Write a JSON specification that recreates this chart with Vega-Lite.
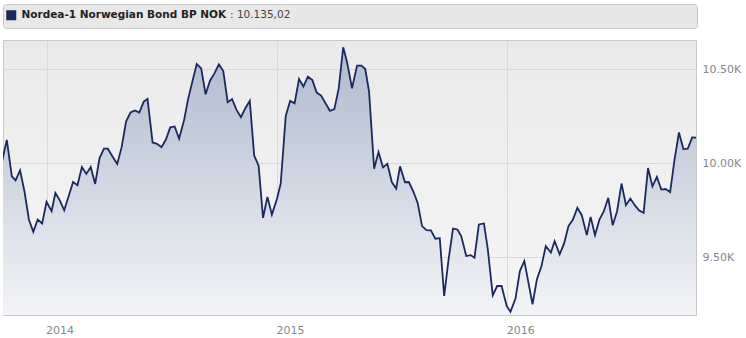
{
  "$schema": "https://vega.github.io/schema/vega-lite/v6.json",
  "padding": {"left": 2, "top": 3, "right": 0, "bottom": 0},
  "background": "white",
  "config": {"font": "DejaVu Sans", "view": {"stroke": null}},
  "spacing": 10,
  "vconcat": [
    {
      "width": 694,
      "height": 24,
      "view": {"fill": "#e8e8e8", "stroke": "#c6c6c6", "cornerRadius": 3},
      "data": {"values": [{"series": "Nordea-1 Norwegian Bond BP NOK"}]},
      "mark": {"type": "square", "opacity": 0},
      "encoding": {
        "color": {
          "field": "series",
          "type": "nominal",
          "scale": {"range": ["#1b2a5e"]},
          "legend": {
            "orient": "none",
            "legendX": 3,
            "legendY": 6,
            "padding": 0,
            "title": ": 10.135,02",
            "titleOrient": "right",
            "titleFontWeight": "normal",
            "titleFontSize": 10.5,
            "titleColor": "#444444",
            "titlePadding": 4,
            "titleLimit": 300,
            "symbolType": "square",
            "symbolSize": 100,
            "symbolStrokeWidth": 0,
            "symbolOpacity": 1,
            "symbolFillColor": "#1b2a5e",
            "labelFontWeight": "bold",
            "labelFontSize": 10.5,
            "labelColor": "#222222",
            "labelOffset": 5,
            "labelLimit": 400
          }
        }
      }
    },
    {
      "width": 693,
      "height": 275,
      "view": {
        "stroke": "#c8c8c8",
        "fill": {
          "gradient": "linear",
          "x1": 0, "y1": 0, "x2": 0, "y2": 1,
          "stops": [
            {"offset": 0, "color": "#eaeaea"},
            {"offset": 1, "color": "#f6f6f6"}
          ]
        }
      },
      "data": {
        "values": [
          {"date": "2013-10-22", "value": 10001},
          {"date": "2013-10-30", "value": 10124},
          {"date": "2013-11-07", "value": 9930},
          {"date": "2013-11-13", "value": 9909},
          {"date": "2013-11-20", "value": 9962},
          {"date": "2013-11-27", "value": 9851},
          {"date": "2013-12-04", "value": 9701},
          {"date": "2013-12-11", "value": 9636},
          {"date": "2013-12-18", "value": 9701},
          {"date": "2013-12-25", "value": 9680},
          {"date": "2014-01-01", "value": 9795},
          {"date": "2014-01-09", "value": 9745},
          {"date": "2014-01-15", "value": 9842},
          {"date": "2014-01-22", "value": 9803},
          {"date": "2014-01-29", "value": 9750},
          {"date": "2014-02-05", "value": 9824},
          {"date": "2014-02-12", "value": 9900},
          {"date": "2014-02-19", "value": 9883},
          {"date": "2014-02-26", "value": 9980},
          {"date": "2014-03-05", "value": 9943},
          {"date": "2014-03-12", "value": 9980},
          {"date": "2014-03-19", "value": 9890},
          {"date": "2014-03-26", "value": 10027},
          {"date": "2014-04-02", "value": 10077},
          {"date": "2014-04-08", "value": 10077},
          {"date": "2014-04-16", "value": 10033},
          {"date": "2014-04-23", "value": 9996},
          {"date": "2014-04-30", "value": 10085},
          {"date": "2014-05-07", "value": 10221},
          {"date": "2014-05-14", "value": 10269},
          {"date": "2014-05-21", "value": 10280},
          {"date": "2014-05-28", "value": 10269},
          {"date": "2014-06-04", "value": 10327},
          {"date": "2014-06-10", "value": 10341},
          {"date": "2014-06-18", "value": 10110},
          {"date": "2014-06-25", "value": 10103},
          {"date": "2014-07-02", "value": 10085},
          {"date": "2014-07-09", "value": 10124},
          {"date": "2014-07-16", "value": 10190},
          {"date": "2014-07-23", "value": 10195},
          {"date": "2014-07-30", "value": 10130},
          {"date": "2014-08-07", "value": 10230},
          {"date": "2014-08-13", "value": 10336},
          {"date": "2014-08-20", "value": 10433},
          {"date": "2014-08-27", "value": 10526},
          {"date": "2014-09-03", "value": 10503},
          {"date": "2014-09-10", "value": 10366},
          {"date": "2014-09-17", "value": 10438},
          {"date": "2014-09-24", "value": 10477},
          {"date": "2014-10-01", "value": 10525},
          {"date": "2014-10-08", "value": 10489},
          {"date": "2014-10-15", "value": 10324},
          {"date": "2014-10-22", "value": 10340},
          {"date": "2014-10-29", "value": 10283},
          {"date": "2014-11-05", "value": 10244},
          {"date": "2014-11-12", "value": 10292},
          {"date": "2014-11-19", "value": 10331},
          {"date": "2014-11-26", "value": 10040},
          {"date": "2014-12-03", "value": 9987},
          {"date": "2014-12-10", "value": 9710},
          {"date": "2014-12-17", "value": 9821},
          {"date": "2014-12-24", "value": 9727},
          {"date": "2015-01-01", "value": 9810},
          {"date": "2015-01-07", "value": 9891},
          {"date": "2015-01-15", "value": 10251},
          {"date": "2015-01-22", "value": 10331},
          {"date": "2015-01-29", "value": 10318},
          {"date": "2015-02-05", "value": 10447},
          {"date": "2015-02-12", "value": 10407},
          {"date": "2015-02-19", "value": 10459},
          {"date": "2015-02-26", "value": 10442},
          {"date": "2015-03-05", "value": 10375},
          {"date": "2015-03-12", "value": 10359},
          {"date": "2015-03-19", "value": 10318},
          {"date": "2015-03-26", "value": 10278},
          {"date": "2015-04-02", "value": 10287},
          {"date": "2015-04-09", "value": 10398},
          {"date": "2015-04-16", "value": 10615},
          {"date": "2015-04-22", "value": 10539},
          {"date": "2015-04-30", "value": 10398},
          {"date": "2015-05-08", "value": 10518},
          {"date": "2015-05-15", "value": 10518},
          {"date": "2015-05-21", "value": 10500},
          {"date": "2015-05-27", "value": 10380},
          {"date": "2015-06-04", "value": 9971},
          {"date": "2015-06-11", "value": 10059},
          {"date": "2015-06-18", "value": 9978},
          {"date": "2015-06-25", "value": 9997},
          {"date": "2015-07-02", "value": 9900},
          {"date": "2015-07-09", "value": 9865},
          {"date": "2015-07-15", "value": 9983},
          {"date": "2015-07-23", "value": 9899},
          {"date": "2015-07-29", "value": 9900},
          {"date": "2015-08-05", "value": 9851},
          {"date": "2015-08-12", "value": 9789},
          {"date": "2015-08-19", "value": 9666},
          {"date": "2015-08-26", "value": 9645},
          {"date": "2015-09-02", "value": 9643},
          {"date": "2015-09-09", "value": 9599},
          {"date": "2015-09-16", "value": 9602},
          {"date": "2015-09-23", "value": 9295},
          {"date": "2015-09-30", "value": 9489},
          {"date": "2015-10-07", "value": 9653},
          {"date": "2015-10-14", "value": 9648},
          {"date": "2015-10-20", "value": 9613},
          {"date": "2015-10-28", "value": 9507},
          {"date": "2015-11-04", "value": 9512},
          {"date": "2015-11-10", "value": 9498},
          {"date": "2015-11-17", "value": 9675},
          {"date": "2015-11-25", "value": 9680},
          {"date": "2015-12-01", "value": 9546},
          {"date": "2015-12-09", "value": 9299},
          {"date": "2015-12-16", "value": 9348},
          {"date": "2015-12-23", "value": 9348},
          {"date": "2015-12-31", "value": 9242},
          {"date": "2016-01-06", "value": 9211},
          {"date": "2016-01-14", "value": 9281},
          {"date": "2016-01-21", "value": 9428},
          {"date": "2016-01-28", "value": 9481},
          {"date": "2016-02-03", "value": 9375},
          {"date": "2016-02-10", "value": 9251},
          {"date": "2016-02-17", "value": 9384},
          {"date": "2016-02-24", "value": 9451},
          {"date": "2016-03-02", "value": 9560},
          {"date": "2016-03-10", "value": 9525},
          {"date": "2016-03-16", "value": 9586},
          {"date": "2016-03-24", "value": 9516},
          {"date": "2016-03-31", "value": 9574},
          {"date": "2016-04-07", "value": 9666},
          {"date": "2016-04-14", "value": 9701},
          {"date": "2016-04-21", "value": 9763},
          {"date": "2016-04-28", "value": 9724},
          {"date": "2016-05-06", "value": 9618},
          {"date": "2016-05-12", "value": 9715},
          {"date": "2016-05-19", "value": 9618},
          {"date": "2016-05-26", "value": 9701},
          {"date": "2016-06-02", "value": 9745},
          {"date": "2016-06-09", "value": 9816},
          {"date": "2016-06-16", "value": 9671},
          {"date": "2016-06-23", "value": 9745},
          {"date": "2016-06-30", "value": 9892},
          {"date": "2016-07-07", "value": 9777},
          {"date": "2016-07-14", "value": 9812},
          {"date": "2016-07-21", "value": 9777},
          {"date": "2016-07-28", "value": 9749},
          {"date": "2016-08-04", "value": 9736},
          {"date": "2016-08-11", "value": 9974},
          {"date": "2016-08-18", "value": 9877},
          {"date": "2016-08-25", "value": 9927},
          {"date": "2016-09-01", "value": 9860},
          {"date": "2016-09-08", "value": 9863},
          {"date": "2016-09-15", "value": 9846},
          {"date": "2016-09-22", "value": 10019},
          {"date": "2016-09-29", "value": 10163},
          {"date": "2016-10-06", "value": 10075},
          {"date": "2016-10-13", "value": 10077},
          {"date": "2016-10-20", "value": 10137},
          {"date": "2016-10-27", "value": 10135}
        ]
      },
      "encoding": {
        "x": {
          "field": "date",
          "type": "temporal",
          "scale": {
            "type": "utc",
            "domain": [
              {"year": 2013, "month": 10, "date": 24, "utc": true},
              {"year": 2016, "month": 10, "date": 26, "utc": true}
            ]
          },
          "axis": {
            "title": null,
            "values": [
              {"year": 2014, "month": 1, "date": 1, "utc": true},
              {"year": 2015, "month": 1, "date": 1, "utc": true},
              {"year": 2016, "month": 1, "date": 1, "utc": true}
            ],
            "format": "%Y",
            "labelAlign": "left",
            "labelPadding": 9,
            "labelOffset": -1,
            "labelColor": "#888888",
            "labelFontSize": 11,
            "labelFlush": false,
            "ticks": false,
            "domain": false,
            "grid": true,
            "gridColor": "#d9d9d9"
          }
        },
        "y": {
          "field": "value",
          "type": "quantitative",
          "scale": {"domain": [9194, 10654], "zero": false, "nice": false},
          "axis": {
            "orient": "right",
            "title": null,
            "values": [9500, 10000, 10500],
            "labelExpr": "format(datum.value / 1000, '.2f') + 'K'",
            "labelColor": "#888888",
            "labelFontSize": 11,
            "labelPadding": 6,
            "ticks": false,
            "domain": false,
            "grid": true,
            "gridColor": "#d9d9d9"
          }
        }
      },
      "layer": [
        {
          "mark": {
            "type": "area",
            "clip": true,
            "color": {
              "gradient": "linear",
              "x1": 0, "y1": 0, "x2": 0, "y2": 1,
              "stops": [
                {"offset": 0, "color": "#aebacd"},
                {"offset": 1, "color": "#f3f4f7"}
              ]
            }
          },
          "encoding": {"y2": {"datum": 9194}}
        },
        {
          "mark": {"type": "line", "clip": true, "color": "#1b2a5e", "strokeWidth": 1.8}
        }
      ]
    }
  ]
}
